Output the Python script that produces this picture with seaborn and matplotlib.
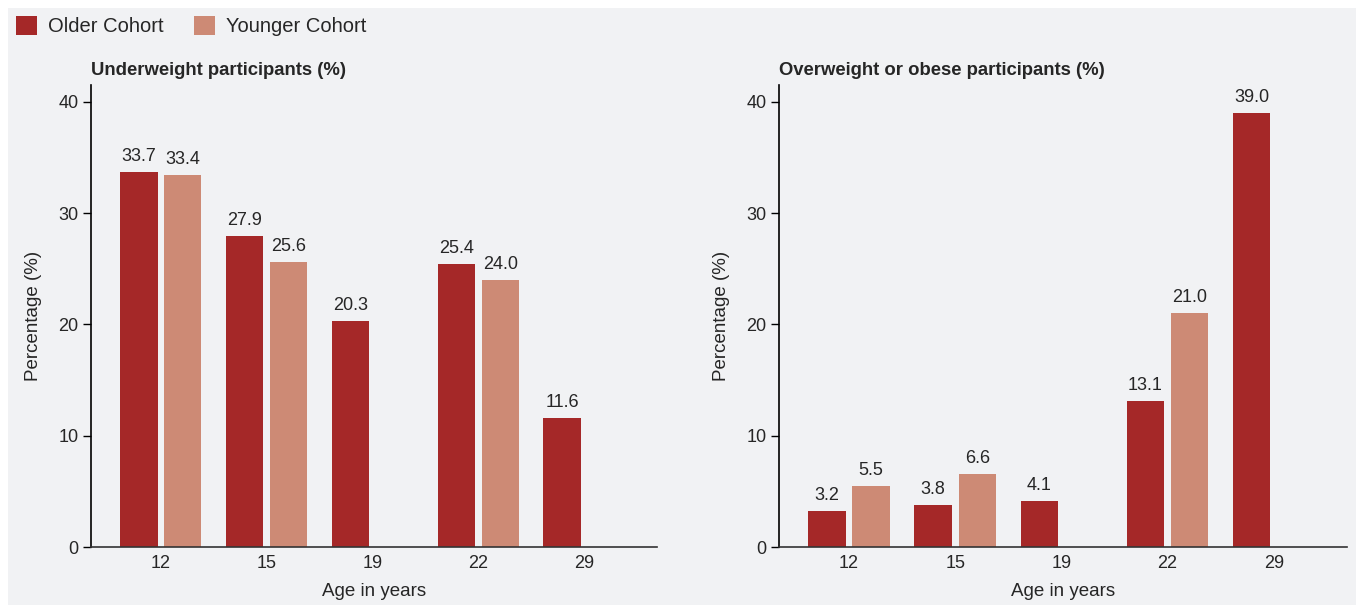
import numpy as np
import pandas as pd
import matplotlib
matplotlib.use("Agg")
import matplotlib.pyplot as plt
from matplotlib.patches import Patch, Rectangle
import seaborn as sns

# Survey results by age
ages = ["12", "15", "19", "22", "29"]
cohorts = ["Older Cohort", "Younger Cohort"]
underweight_older = [33.7, 27.9, 20.3, 25.4, 11.6]
underweight_younger = [33.4, 25.6, np.nan, 24.0, np.nan]
overweight_older = [3.2, 3.8, 4.1, 13.1, 39.0]
overweight_younger = [5.5, 6.6, np.nan, 21.0, np.nan]
panel_titles = ["Underweight participants (%)", "Overweight or obese participants (%)"]
y_ticks = [0, 10, 20, 30, 40]

colors = {"Older Cohort": "#a52828", "Younger Cohort": "#cd8a75"}
bg = "#f1f2f4"
text_color = "#262626"

sns.set_theme(style="white")
plt.rcParams["font.family"] = ["Liberation Sans", "DejaVu Sans"]
plt.rcParams["text.color"] = text_color
plt.rcParams["axes.labelcolor"] = text_color
plt.rcParams["xtick.color"] = text_color
plt.rcParams["ytick.color"] = text_color
plt.rcParams["ytick.left"] = True


def long_frame(older, younger):
    return pd.DataFrame({
        "age": ages * 2,
        "cohort": [cohorts[0]] * len(ages) + [cohorts[1]] * len(ages),
        "value": list(older) + list(younger),
    })


frames = [long_frame(underweight_older, underweight_younger),
          long_frame(overweight_older, overweight_younger)]

W, H = 1357, 605
fig = plt.figure(figsize=(W / 100, H / 100), dpi=100, facecolor="white")
fig.patches.append(Rectangle((8 / W, 0), (1356 - 8) / W, 1 - 8 / H,
                             transform=fig.transFigure, facecolor=bg,
                             edgecolor="none", zorder=-10))

axes_px = [(91, 657), (779, 1347)]
top_px, bottom_px = 85, 547

for (x0, x1), df, title in zip(axes_px, frames, panel_titles):
    ax = fig.add_axes([x0 / W, (H - bottom_px) / H, (x1 - x0) / W,
                       (bottom_px - top_px) / H])
    ax.set_facecolor(bg)
    sns.barplot(data=df, x="age", y="value", hue="cohort", order=ages,
                hue_order=cohorts, palette=colors, width=0.83, gap=0.15,
                dodge=True, legend=False, ax=ax, saturation=1, linewidth=0)
    for p in ax.patches:
        h = p.get_height()
        if np.isfinite(h) and h > 0:
            ax.annotate(f"{h:.1f}", (p.get_x() + p.get_width() / 2, h),
                        xytext=(0, 5), textcoords="offset points",
                        ha="center", va="bottom", fontsize=13,
                        color=text_color)
    ax.set_xlim(-0.66, 4.69)
    ax.set_ylim(0, 41.5)
    ax.set_yticks(y_ticks)
    ax.tick_params(axis="y", which="major", length=6, width=1, color="black",
                   labelsize=13, pad=3, left=True)
    ax.tick_params(axis="x", length=0, labelsize=13, pad=6)
    for s in ["top", "right"]:
        ax.spines[s].set_visible(False)
    ax.spines["left"].set_color("black")
    ax.spines["left"].set_linewidth(1.2)
    ax.spines["bottom"].set_color("#333333")
    ax.spines["bottom"].set_linewidth(1.2)
    ax.set_xlabel("Age in years", fontsize=13.5, labelpad=8)
    ax.set_ylabel("Percentage (%)", fontsize=13.5, labelpad=12)
    ax.set_title(title, loc="left", fontsize=13.3, fontweight="bold",
                 pad=7, color=text_color)

handles = [Patch(facecolor=colors[c], edgecolor="none", label=c) for c in cohorts]
fig.legend(handles=handles, loc="upper left", bbox_to_anchor=(14 / W, 1 - 14 / H),
           ncol=2, frameon=False, fontsize=14.5, handlelength=1.05,
           handleheight=1.05, handletextpad=0.55, columnspacing=1.5,
           borderaxespad=0, borderpad=0.1)

fig.savefig("out.png", dpi=100, facecolor="white")
